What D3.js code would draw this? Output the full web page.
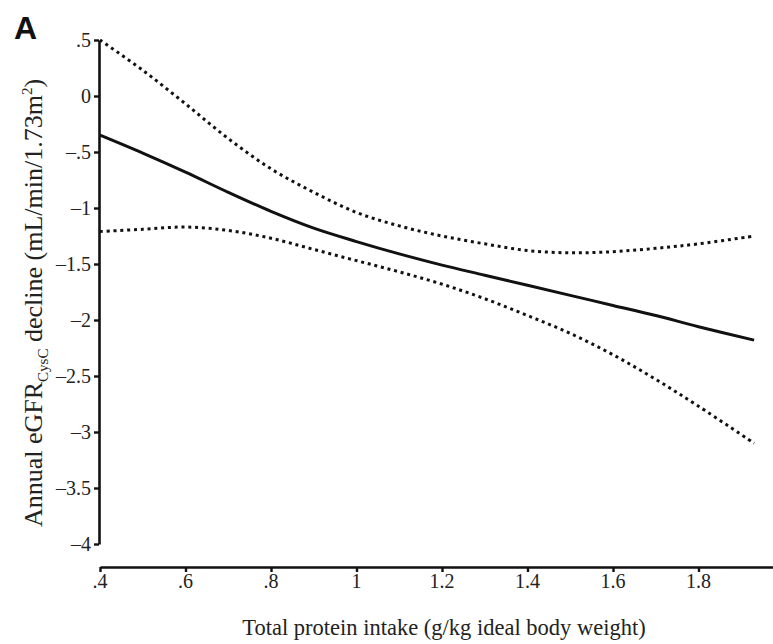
<!DOCTYPE html>
<html>
<head>
<meta charset="utf-8">
<script src="https://cdn.jsdelivr.net/npm/d3@7/dist/d3.min.js"></script>
<style>
  body { margin: 0; background: #fff; }
  svg { display: block; }
  text { font-family: 'Liberation Serif', 'Times New Roman', serif; fill: #222; }
</style>
</head>
<body>
<svg id="chart" width="773" height="644"></svg>
<script>
// protein intake (g/kg ideal body weight)
const protein = [0.4, 0.5, 0.6, 0.7, 0.8, 0.9, 1.0, 1.1, 1.2, 1.3, 1.4, 1.5, 1.6, 1.7, 1.8, 1.93]
// annual eGFR decline, fitted line and 95% CI
const estimate = [-0.35, -0.51, -0.68, -0.86, -1.03, -1.18, -1.30, -1.41, -1.51, -1.60, -1.69, -1.78, -1.87, -1.96, -2.06, -2.18]
const upperCI = [0.50, 0.23, -0.07, -0.38, -0.65, -0.86, -1.04, -1.16, -1.25, -1.32, -1.38, -1.40, -1.39, -1.36, -1.32, -1.25]
const lowerCI = [-1.21, -1.19, -1.17, -1.20, -1.27, -1.37, -1.47, -1.57, -1.68, -1.81, -1.96, -2.12, -2.31, -2.53, -2.77, -3.10]

const xTicks = [0.4, 0.6, 0.8, 1.0, 1.2, 1.4, 1.6, 1.8, 2.0]
const xTickLabels = ['.4', '.6', '.8', '1', '1.2', '1.4', '1.6', '1.8', '2']
const yTicks = [0.5, 0, -0.5, -1, -1.5, -2, -2.5, -3, -3.5, -4]
const yTickLabels = ['.5', '0', '\u2013.5', '\u20131', '\u20131.5', '\u20132', '\u20132.5', '\u20133', '\u20133.5', '\u20134']

const svg = d3.select('#chart')

const x = d3.scaleLinear().domain([0.4, 2.0]).range([100, 784])
const y = d3.scaleLinear().domain([-4, 0.5]).range([544, 40])

// panel letter
svg.append('text')
  .attr('x', 14)
  .attr('y', 39)
  .style('font-family', "'Liberation Sans', Arial, sans-serif")
  .attr('font-weight', 'bold')
  .attr('font-size', 32)
  .style('fill', '#111')
  .text('A')

// y axis
const yAxis = svg.append('g')
  .attr('transform', 'translate(99,0)')
  .call(d3.axisLeft(y).tickValues(yTicks).tickSize(5).tickSizeOuter(0).tickFormat(''))
yAxis.select('.domain').attr('stroke', '#111').attr('stroke-width', 2.6)
yAxis.selectAll('.tick line').attr('stroke', '#111').attr('stroke-width', 2.4)

svg.append('g').selectAll('text')
  .data(yTicks)
  .join('text')
  .attr('x', 91)
  .attr('y', d => y(d))
  .attr('dy', '0.34em')
  .attr('text-anchor', 'end')
  .attr('font-size', 20)
  .text((d, i) => yTickLabels[i])

// x axis (offset below plot)
const xAxis = svg.append('g')
  .attr('transform', 'translate(0,567)')
  .call(d3.axisBottom(x).tickValues(xTicks).tickSize(5).tickSizeOuter(0).tickFormat(''))
xAxis.select('.domain').attr('stroke', '#111').attr('stroke-width', 2.6)
xAxis.selectAll('.tick line').attr('stroke', '#111').attr('stroke-width', 2.4)

svg.append('g').selectAll('text')
  .data(xTicks)
  .join('text')
  .attr('x', d => x(d))
  .attr('y', 588)
  .attr('text-anchor', 'middle')
  .attr('font-size', 20)
  .text((d, i) => xTickLabels[i])

// lines
const line = vals => d3.line()
  .x((d, i) => x(protein[i]))
  .y(d => y(d))
  .curve(d3.curveCatmullRom)(vals)

svg.append('path')
  .attr('d', line(upperCI))
  .attr('fill', 'none')
  .attr('stroke', '#111')
  .attr('stroke-width', 3)
  .attr('stroke-dasharray', '3,3.8')

svg.append('path')
  .attr('d', line(lowerCI))
  .attr('fill', 'none')
  .attr('stroke', '#111')
  .attr('stroke-width', 3)
  .attr('stroke-dasharray', '3,3.8')

svg.append('path')
  .attr('d', line(estimate))
  .attr('fill', 'none')
  .attr('stroke', '#111')
  .attr('stroke-width', 3)

// axis titles
svg.append('text')
  .attr('x', 444)
  .attr('y', 635)
  .attr('text-anchor', 'middle')
  .attr('font-size', 22.5)
  .text('Total protein intake (g/kg ideal body weight)')

const yl = svg.append('text')
  .attr('transform', 'translate(42,303) rotate(-90)')
  .attr('text-anchor', 'middle')
  .attr('font-size', 26)
yl.append('tspan').text('Annual eGFR')
yl.append('tspan').attr('font-size', 15).attr('dy', 6).text('CysC')
yl.append('tspan').attr('dy', -6).text(' decline (mL/min/1.73m')
yl.append('tspan').attr('font-size', 15).attr('dy', -10).text('2')
yl.append('tspan').attr('dy', 10).text(')')
</script>
</body>
</html>
